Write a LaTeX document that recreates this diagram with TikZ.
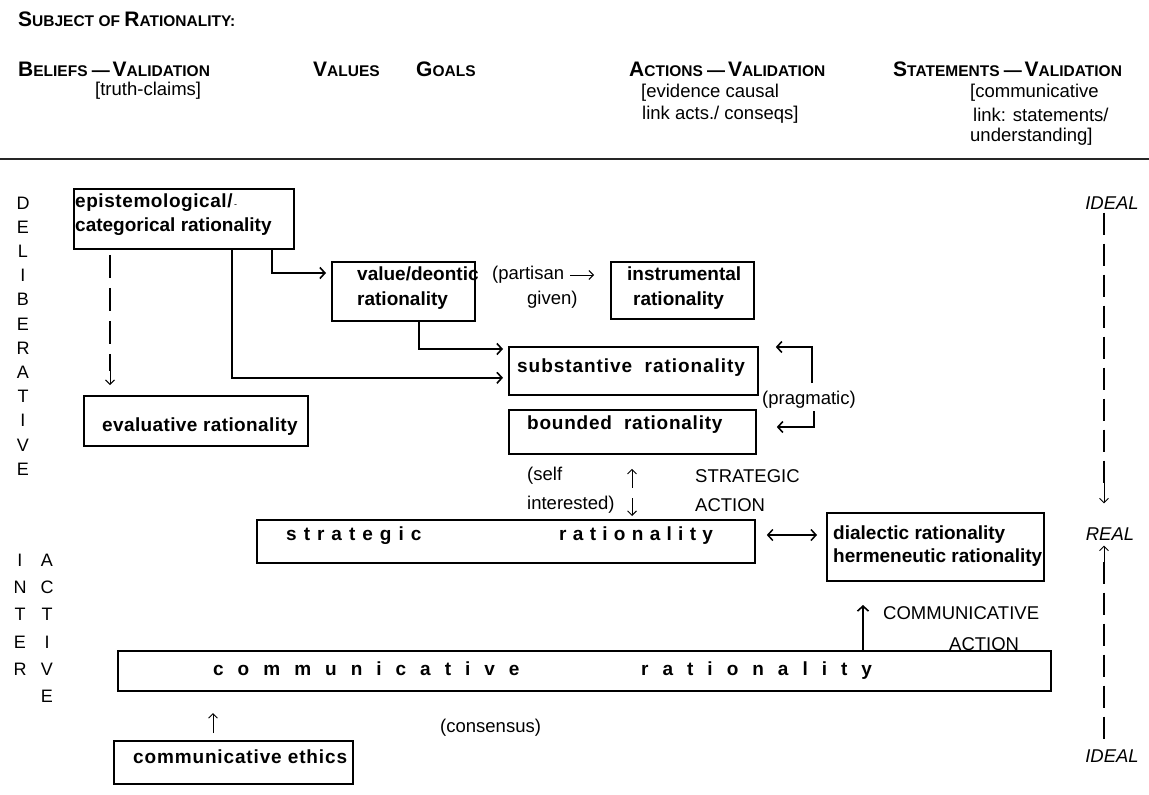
\documentclass[tikz,border=0pt]{standalone}
\usepackage{fontspec}
\setmainfont{Liberation Sans}
\usetikzlibrary{arrows.meta,calc}
\makeatletter
\newcommand\spreadit[2]{\@tfor\ltr:=#2\do{\ltr\hspace{#1}}\unskip}
\makeatother
\newcommand\bigsc[2]{{\fontsize{21}{21}\selectfont #1}{\fontsize{15.5}{15.5}\selectfont #2}}
\newcommand\hdash{{\fontsize{18}{18}\selectfont ---}}
\tikzset{
 box/.style={draw, line width=1.8pt, inner sep=0pt, anchor=north west},
 bt/.style={font=\fontsize{19}{24}\selectfont\bfseries, inner sep=0pt, align=left, anchor=west},
 rt/.style={font=\fontsize{18.5}{23}\selectfont, inner sep=0pt, align=left, anchor=west},
 hd/.style={font=\bfseries, inner sep=0pt, anchor=west},
 vt/.style={font=\fontsize{18}{18}\selectfont, inner sep=0pt},
 itx/.style={font=\fontsize{18.5}{18.5}\selectfont\itshape, inner sep=0pt},
 conn/.style={line width=1.6pt, -{Straight Barb[length=5pt,width=11pt]}},
 glyph/.style={line width=0.9pt, -{Straight Barb[length=4.5pt,width=9pt]}},
 dsh/.style={line width=1.4pt, dash pattern=on 23pt off 10pt},
}
\begin{document}
\begin{tikzpicture}[x=1pt,y=-1pt]
\useasboundingbox (0,0) rectangle (1149,795);
% header
\node[hd] (subj) at (18,19) {\bigsc{S}{UBJECT OF }\bigsc{R}{ATIONALITY:}};
\node[hd] (bel) at (18,69) {\bigsc{B}{ELIEFS }\hdash\ \bigsc{V}{ALIDATION}};
\node[rt] (truth) at (95,91) {[truth-claims]};
\node[hd] (val) at (313,69) {\bigsc{V}{ALUES}};
\node[hd] (goal) at (416,69) {\bigsc{G}{OALS}};
\node[hd] (act) at (629,69) {\bigsc{A}{CTIONS }\hdash\ \bigsc{V}{ALIDATION}};
\node[rt] (evid1) at (641,93) {[evidence causal};
\node[rt] (evid2) at (642,115) {link acts./ conseqs]};
\node[hd] (stat) at (893,69) {\bigsc{S}{TATEMENTS }\hdash\ \bigsc{V}{ALIDATION}};
\node[rt] (com1) at (970,93) {[communicative};
\node[rt] (com2) at (973,115) {link: statements/};
\node[rt] (com3) at (970,137) {understanding]};
\coordinate (rl) at (0,159);
\coordinate (rr) at (1149,159);
\draw[line width=1.2pt, black!85] (rl) -- (rr);
% vertical letters
\foreach \l [count=\i from 0] in {D,E,L,I,B,E,R,A,T,I,V,E}
  \node[vt] (d\i) at (23,{203+24.2*\i}) {\l};
\foreach \l [count=\i from 0] in {I,N,T,E,R}
  \node[vt] (n\i) at (20,{560+27.3*\i}) {\l};
\foreach \l [count=\i from 0] in {A,C,T,I,V,E}
  \node[vt] (a\i) at (47,{560+27.3*\i}) {\l};
% boxes
\node[box, minimum width=220pt, minimum height=60pt] (epi) at (73,188) {};
\node[box, minimum width=143pt, minimum height=59pt] (value) at (331,261) {};
\node[box, minimum width=143pt, minimum height=57pt] (instr) at (610,261) {};
\node[box, minimum width=249pt, minimum height=48pt] (subst) at (508,346) {};
\node[box, minimum width=247pt, minimum height=44pt] (bounded) at (508,409) {};
\node[box, minimum width=224pt, minimum height=50pt] (evalu) at (83,395) {};
\node[box, minimum width=498pt, minimum height=43pt] (strat) at (256,519) {};
\node[box, minimum width=217pt, minimum height=68pt] (dial) at (826,512) {};
\node[box, minimum width=933pt, minimum height=40pt] (comm) at (117,650) {};
\node[box, minimum width=239pt, minimum height=43pt] (ethics) at (113,740) {};
% box texts
\node[bt] (tepi) at (75,215) {\addfontfeature{LetterSpace=3}epistemological/{\mdseries\fontsize{9}{9}\selectfont\,-}\\categorical rationality};
\node[bt, font=\fontsize{19}{25}\selectfont\bfseries] (tval) at (357,288) {value/deontic\\rationality};
\node[bt, font=\fontsize{19}{25}\selectfont\bfseries] (tins) at (627,288) {instrumental\\\hspace*{6pt}rationality};
\node[bt] (tsub) at (517,368) {\addfontfeature{LetterSpace=5}substantive\ \ rationality};
\node[bt] (tbou) at (527,425) {\addfontfeature{LetterSpace=4}bounded\ \ rationality};
\node[bt] (teva) at (102,427) {\addfontfeature{LetterSpace=2}evaluative rationality};
\node[bt, anchor=base west] (st1) at (286,540) {\spreadit{7pt}{strategic}};
\node[bt, anchor=base west] (st2) at (559,540) {\spreadit{6.3pt}{rationality}};
\node[bt, font=\fontsize{19}{23}\selectfont\bfseries] (tdia) at (833,546) {dialectic rationality\\hermeneutic rationality};
\node[bt, anchor=base west] (cr1) at (213,675) {\spreadit{14pt}{communicative}};
\node[bt, anchor=base west] (cr2) at (641,675) {\spreadit{14pt}{rationality}};
\node[bt] (teth) at (133,757) {\addfontfeature{LetterSpace=4.5}communicative ethics};
% free texts
\node[rt] (part1) at (492,275) {(partisan};
\node[rt] (part2) at (527,300) {given)};
\node[rt] (prag) at (762,400) {(pragmatic)};
\node[rt] (self1) at (527,476) {(self};
\node[rt] (self2) at (527,505) {interested)};
\node[rt] (sa1) at (695,476) {STRATEGIC};
\node[rt] (sa2) at (695,505) {ACTION};
\node[rt] (ca1) at (883,613) {COMMUNICATIVE};
\node[rt] (ca2) at (949,644) {ACTION};
\node[rt] (cons) at (440,728) {(consensus)};
% connectors
\draw[conn] ($(epi.south west)+(199,0)$) |- ($(value.north west)+(-5,12)$);
\draw[conn] ($(epi.south west)+(159,0)$) |- ($(subst.south west)+(-5,-18)$);
\draw[conn] ($(value.south west)+(88,0)$) |- ($(subst.north west)+(-5,3)$);
\draw[dsh] ($(epi.south west)+(37,5)$) -- ($(evalu.north west)+(27,-24)$);
\draw[glyph] ($(evalu.north west)+(27,-28)$) -- ($(evalu.north west)+(27,-10)$);
\draw[glyph] ($(instr.north west)+(-40,14)$) -- ($(instr.north west)+(-16,14)$);
\draw[conn] ($(subst.north east)+(53,37)$) |- ($(subst.north east)+(17,1)$);
\draw[conn] ($(bounded.north east)+(57,2)$) |- ($(bounded.north east)+(20,18)$);
\draw[glyph] ($(bounded.south west)+(124,33)$) -- ($(bounded.south west)+(124,14)$);
\draw[glyph] ($(strat.north west)+(376,-21)$) -- ($(strat.north west)+(376,-3)$);
\draw[line width=1.5pt, {Straight Barb[length=5pt,width=11pt]}-{Straight Barb[length=5pt,width=11pt]}] ($(strat.north east)+(11,16)$) -- ($(dial.north west)+(-9,23)$);
\draw[conn] ($(comm.north west)+(746,0)$) -- ($(comm.north west)+(746,-45)$);
\draw[glyph] ($(ethics.north west)+(100,-7)$) -- ($(ethics.north west)+(100,-27)$);
% right scale
\node[itx] (ideal1) at (1112,203) {IDEAL};
\node[itx] (real) at (1110,534) {REAL};
\node[itx] (ideal2) at (1112,756) {IDEAL};
\coordinate (rx) at (1104,0);
\draw[dsh, line width=1.3pt, dash pattern=on 22pt off 9pt] ($(ideal1.south -| rx)+(0,3)$) -- ($(real.north -| rx)+(0,-42)$);
\draw[glyph] ($(real.north -| rx)+(0,-46)$) -- ($(real.north -| rx)+(0,-24)$);
\draw[glyph] ($(real.south -| rx)+(0,25)$) -- ($(real.south -| rx)+(0,5)$);
\draw[dsh, line width=1.3pt, dash pattern=on 22pt off 9pt] ($(real.south -| rx)+(0,21)$) -- ($(ideal2.north -| rx)+(0,-5)$);
\end{tikzpicture}
\end{document}
